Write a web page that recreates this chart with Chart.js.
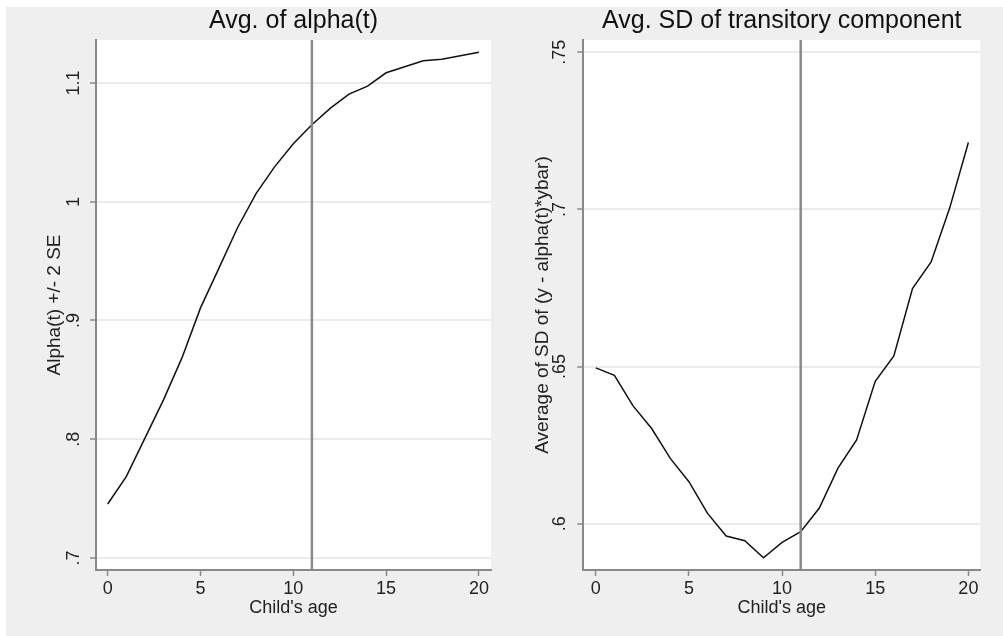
<!DOCTYPE html>
<html>
<head>
<meta charset="utf-8">
<script src="https://cdn.jsdelivr.net/npm/chart.js@4"></script>
<style>
    html, body { margin: 0; padding: 0; background: #fff; }
    #bg { position: absolute; left: 6px; top: 7px; width: 997px; height: 629px; background: #efefef; }
    canvas { position: absolute; top: 0; }
</style>
</head>
<body>
<div id="bg"></div>
<canvas id="leftChart" width="500" height="636" style="left:0"></canvas>
<canvas id="rightChart" width="503" height="636" style="left:500px"></canvas>
<script>
// ── Data ──────────────────────────────────────────────────────────────
const ages = [0, 1, 2, 3, 4, 5, 6, 7, 8, 9, 10, 11, 12, 13, 14, 15, 16, 17, 18, 19, 20];
const avgAlpha = [0.7455, 0.7685, 0.8008, 0.8330, 0.8685, 0.9106, 0.9443, 0.9783, 1.0071, 1.0296,
                  1.0488, 1.0648, 1.0788, 1.0906, 1.0974, 1.1086, 1.1137, 1.1188, 1.1199, 1.1230, 1.1258];
const avgSdTrans = [0.6496, 0.6472, 0.6375, 0.6303, 0.6208, 0.6134, 0.6033, 0.5961, 0.5946, 0.5892,
                    0.5941, 0.5975, 0.6050, 0.6177, 0.6267, 0.6453, 0.6534, 0.6748, 0.6833, 0.7005, 0.7213];
const refAge = 11;

const xTicks = [0, 5, 10, 15, 20];
const xTickLabels = ['0', '5', '10', '15', '20'];
const alphaTicks = [0.7, 0.8, 0.9, 1.0, 1.1];
const alphaTickLabels = ['.7', '.8', '.9', '1', '1.1'];
const sdTicks = [0.6, 0.65, 0.7, 0.75];
const sdTickLabels = ['.6', '.65', '.7', '.75'];

Chart.defaults.font.family = '"Liberation Sans", Arial, Helvetica, sans-serif';
Chart.defaults.color = '#222';

// white plot region on the grey page
const plotBg = {
    id: 'plotBg',
    beforeDraw(chart) {
        const { ctx, chartArea: a } = chart;
        ctx.save();
        ctx.fillStyle = '#fff';
        ctx.fillRect(a.left, a.top, a.right - a.left, a.bottom - a.top);
        ctx.restore();
    },
};

function makePanel(id, cfg) {
    const points = ages.map((a, i) => ({ x: a, y: cfg.values[i] }));
    return new Chart(document.getElementById(id), {
        type: 'line',
        data: {
            datasets: [
                {
                    data: [{ x: refAge, y: cfg.yMin }, { x: refAge, y: cfg.yMax }],
                    borderColor: '#8a8a8a', borderWidth: 2.5, pointRadius: 0,
                },
                {
                    data: points,
                    borderColor: '#111', borderWidth: 1.5, pointRadius: 0, tension: 0,
                },
            ],
        },
        options: {
            responsive: false,
            animation: false,
            layout: { padding: { left: 0, top: 0, bottom: 0, right: cfg.padRight } },
            plugins: {
                legend: { display: false },
                tooltip: { enabled: false },
                title: {
                    display: true, text: cfg.title, fullSize: false,
                    color: '#111', font: { size: 25, weight: 'normal' },
                    padding: { top: 6, bottom: 4 },
                },
            },
            scales: {
                x: {
                    type: 'linear', min: cfg.xMin, max: cfg.xMax,
                    afterBuildTicks: s => { s.ticks = xTicks.map(v => ({ value: v })); },
                    afterFit: s => { s.height = 66; },
                    ticks: { font: { size: 18 }, padding: 2, callback: (v, i) => xTickLabels[i] },
                    grid: { drawOnChartArea: false, tickLength: 6, tickColor: '#888', tickWidth: 1.5 },
                    border: { color: '#888', width: 2 },
                    title: { display: true, text: "Child's age", font: { size: 18 }, padding: { top: 0, bottom: 17 } },
                },
                y: {
                    type: 'linear', min: cfg.yMin, max: cfg.yMax,
                    afterBuildTicks: s => { s.ticks = cfg.ticks.map(v => ({ value: v })); },
                    afterFit: s => { s.width = cfg.plotLeft; },
                    ticks: {
                        font: { size: 18 }, minRotation: 90, maxRotation: 90, crossAlign: 'center',
                        padding: cfg.tickPad, callback: (v, i) => cfg.tickLabels[i],
                    },
                    grid: { color: '#ebebeb', lineWidth: 2, tickLength: 6, tickColor: '#888', tickWidth: 1.5 },
                    border: { color: '#888', width: 2 },
                    title: { display: true, text: cfg.yTitle, font: { size: 19 }, padding: { top: cfg.titlePad, bottom: 0 } },
                },
            },
        },
        plugins: [plotBg],
    });
}

makePanel('leftChart', {
    title: 'Avg. of alpha(t)', yTitle: 'Alpha(t) +/- 2 SE',
    values: avgAlpha, ticks: alphaTicks, tickLabels: alphaTickLabels,
    yMin: 0.6899, yMax: 1.1362, xMin: -0.63, xMax: 20.65,
    plotLeft: 96, padRight: 9, tickPad: 3.8, titlePad: 43.6,
});

makePanel('rightChart', {
    title: 'Avg. SD of transitory component', yTitle: 'Average of SD of (y - alpha(t)*ybar)',
    values: avgSdTrans, ticks: sdTicks, tickLabels: sdTickLabels,
    yMin: 0.5853, yMax: 0.7539, xMin: -0.67, xMax: 20.64,
    plotLeft: 83.3, padRight: 22.7, tickPad: 5.1, titlePad: 31,
});
</script>
</body>
</html>
